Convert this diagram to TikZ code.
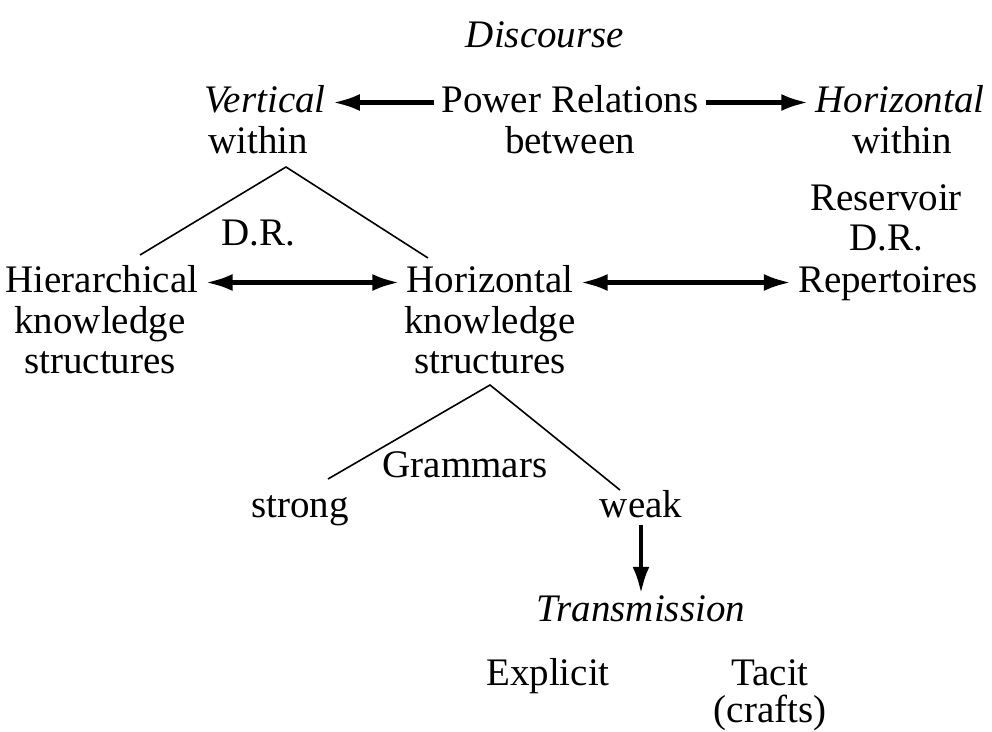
\documentclass[tikz,border=0pt]{standalone}
\usepackage{fontspec}
\setmainfont{Liberation Serif}
\usetikzlibrary{arrows.meta, positioning}

\begin{document}
\begin{tikzpicture}[
    x=1pt, y=-1pt,
    txt/.style={anchor=base, inner xsep=7pt, inner ysep=0pt, text height=27pt, text depth=8pt, font=\fontsize{39}{40}\selectfont},
    itl/.style={txt, font=\fontsize{39}{40}\selectfont\itshape},
    line/.style={-{Latex[length=27pt, width=17pt]}, line width=4.5pt},
    dline/.style={{Latex[length=27pt, width=17pt]}-{Latex[length=27pt, width=17pt]}, line width=4.5pt},
    branch/.style={line width=1.6pt}
]
\useasboundingbox (0,0) rectangle (992,731);

% Discourse and power relations
\node[itl] (disc) at (545,47) {Discourse};
\node[txt] (power) at (570,112) {Power Relations};
\node[txt] (between) at (570,153) {between};
\node[itl] (vert) at (265,112) {Vertical};
\node[txt] (vwithin) at (258,153) {within};
\node[itl] (horiz) at (900,112) {Horizontal};
\node[txt] (hwithin) at (902,153) {within};

% Knowledge structures
\node[txt] (hier) at (102,292) {Hierarchical};
\node[txt] (hierk) at (100,333) {knowledge};
\node[txt] (hiers) at (100,373) {structures};
\node[txt] (hks) at (490,292) {Horizontal};
\node[txt] (hksk) at (490,333) {knowledge};
\node[txt] (hkss) at (490,373) {structures};
\node[txt] (res) at (886,210) {Reservoir};
\node[txt] (resdr) at (886,250) {D.R.};
\node[txt] (rep) at (888,292) {Repertoires};
\node[txt] (dr) at (258,245) {D.R.};

% Grammars
\node[txt] (gram) at (465,477) {Grammars};
\node[txt] (strong) at (300,517) {strong};
\node[txt] (weak) at (641,517) {weak};

% Transmission
\node[itl] (trans) at (641,621) {Transmission};
\node[txt] (expl) at (548,685) {Explicit};
\node[txt] (tacit) at (770,685) {Tacit};
\node[txt] (crafts) at (770,722) {(crafts)};

% Branches
\coordinate (top1) at (286,167);
\coordinate (left1) at (140,255);
\coordinate (right1) at (428,258);
\coordinate (top2) at (490,385);
\coordinate (left2) at (328,479);
\coordinate (right2) at (620,490);
\draw[branch] (left1) -- (top1) -- (right1);
\draw[branch] (left2) -- (top2) -- (right2);

% Arrows
\draw[line] (power) -- (vert);
\draw[line] (power) -- (horiz);
\draw[dline] (hier) -- (hks);
\draw[dline] (hks) -- (rep);
\draw[line] (weak) -- (trans);

\end{tikzpicture}
\end{document}
